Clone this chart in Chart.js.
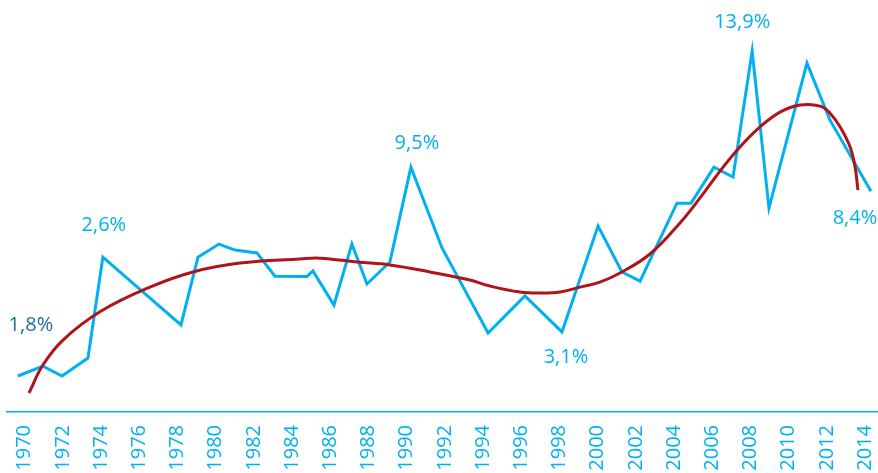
<!DOCTYPE html>
<html>
<head>
<meta charset="utf-8">
<script src="https://cdn.jsdelivr.net/npm/chart.js@4.4.1/dist/chart.umd.min.js"></script>
<style>
  html, body { margin: 0; padding: 0; background: #ffffff; }
  #wrap { width: 878px; height: 473px; position: relative; }
</style>
</head>
<body>
<div id="wrap"><canvas id="c" width="878" height="473"></canvas></div>
<script>
// ---- data ----
const seriesYears = [1969.64, 1970.95, 1971.95, 1973.31, 1974.09, 1978.18, 1979.07, 1980.17, 1981.01, 1982.16,
  1983.10, 1984.78, 1985.09, 1986.19, 1987.13, 1987.92, 1989.12, 1990.22, 1991.85, 1994.26,
  1996.19, 1998.13, 2000.02, 2001.27, 2002.22, 2004.15, 2004.89, 2006.09, 2007.09, 2008.09,
  2008.97, 2010.96, 2012.16, 2014.31];
const seriesValues = [1.38, 1.76, 1.38, 2.07, 5.94, 3.34, 5.94, 6.44, 6.21, 6.10,
  5.21, 5.20, 5.41, 4.10, 6.44, 4.91, 5.75, 9.39, 6.29, 3.03,
  4.45, 3.07, 7.13, 5.37, 5.02, 8.01, 8.01, 9.39, 9.01, 13.84,
  7.82, 13.38, 11.20, 8.47];
const trendYears = [1970.22, 1970.95, 1972.00, 1974.00, 1976.56, 1978.81, 1981.27, 1984.41, 1985.46, 1987.40,
  1989.12, 1991.22, 1993.31, 1994.36, 1995.93, 1996.98, 1998.03, 1999.08, 2000.12, 2001.17,
  2002.74, 2004.31, 2005.36, 2006.41, 2007.45, 2008.50, 2009.55, 2010.60, 2011.65, 2012.17,
  2012.70, 2013.22, 2013.48, 2013.63];
const trendValues = [0.73, 1.80, 2.76, 3.87, 4.79, 5.37, 5.71, 5.87, 5.90, 5.75,
  5.64, 5.37, 5.06, 4.83, 4.60, 4.56, 4.60, 4.79, 4.98, 5.33,
  6.06, 7.25, 8.21, 9.24, 10.16, 10.93, 11.50, 11.77, 11.73, 11.46,
  10.93, 10.16, 9.39, 8.51];
const tickYears = [1970, 1972, 1974, 1976, 1978, 1980, 1982, 1984, 1986, 1988, 1990, 1992,
  1994, 1996, 1998, 2000, 2002, 2004, 2006, 2008, 2010, 2012, 2014];
const labelTexts = ['1,8%', '2,6%', '9,5%', '3,1%', '13,9%', '8,4%'];
const labelPointIndex = [1, 4, 17, 21, 29, 33];

// ---- styling / placement ----
const BLUE = '#00B0F0';
const RED = '#B01319';
const DARKBLUE = '#1A6F9C';
const FONT = "'Open Sans', 'Noto Sans', sans-serif";
const labelOffsets = [[-12, -41], [1, -32], [6, -24], [4, 25], [-10, -29], [-16, 27]];
const labelColors = [DARKBLUE, BLUE, BLUE, BLUE, BLUE, BLUE];

const seriesPts = seriesYears.map((y, i) => ({ x: y, y: seriesValues[i] }));
const trendPts = trendYears.map((y, i) => ({ x: y, y: trendValues[i] }));

const labelPlugin = {
  id: 'pointLabels',
  afterDatasetsDraw(chart) {
    const { ctx, scales } = chart;
    ctx.save();
    ctx.font = '20px ' + FONT;
    ctx.textAlign = 'center';
    ctx.textBaseline = 'middle';
    labelTexts.forEach((t, i) => {
      const idx = labelPointIndex[i];
      const px = scales.x.getPixelForValue(seriesYears[idx]) + labelOffsets[i][0];
      const py = scales.y.getPixelForValue(seriesValues[idx]) + labelOffsets[i][1];
      ctx.fillStyle = labelColors[i];
      ctx.fillText(t, px, py);
    });
    ctx.restore();
  }
};

new Chart(document.getElementById('c'), {
  type: 'line',
  data: {
    datasets: [
      {
        label: 'trend',
        data: trendPts,
        borderColor: RED,
        borderWidth: 3,
        pointRadius: 0,
        tension: 0.4,
        fill: false,
        order: 0
      },
      {
        label: 'series',
        data: seriesPts,
        borderColor: BLUE,
        borderWidth: 3,
        pointRadius: 0,
        tension: 0,
        fill: false,
        order: 1
      }
    ]
  },
  options: {
    responsive: false,
    animation: false,
    layout: { padding: { left: 7, right: 0, top: 0, bottom: 0 } },
    plugins: { legend: { display: false }, tooltip: { enabled: false } },
    scales: {
      x: {
        type: 'linear',
        min: 1969.07,
        max: 2014.68,
        grid: { display: false, drawTicks: false },
        border: { display: true, color: BLUE, width: 1.5 },
        afterBuildTicks(scale) { scale.ticks = tickYears.map(v => ({ value: v })); },
        afterFit(scale) {
          scale.height = 61;
          scale.paddingLeft = 0;
          scale.paddingRight = 0;
        },
        ticks: {
          autoSkip: false,
          minRotation: 90,
          maxRotation: 90,
          padding: 13,
          color: BLUE,
          font: { family: FONT, size: 20 },
          callback: v => String(v)
        }
      },
      y: {
        display: false,
        min: 0,
        max: 15.8
      }
    }
  },
  plugins: [labelPlugin]
});
</script>
</body>
</html>
